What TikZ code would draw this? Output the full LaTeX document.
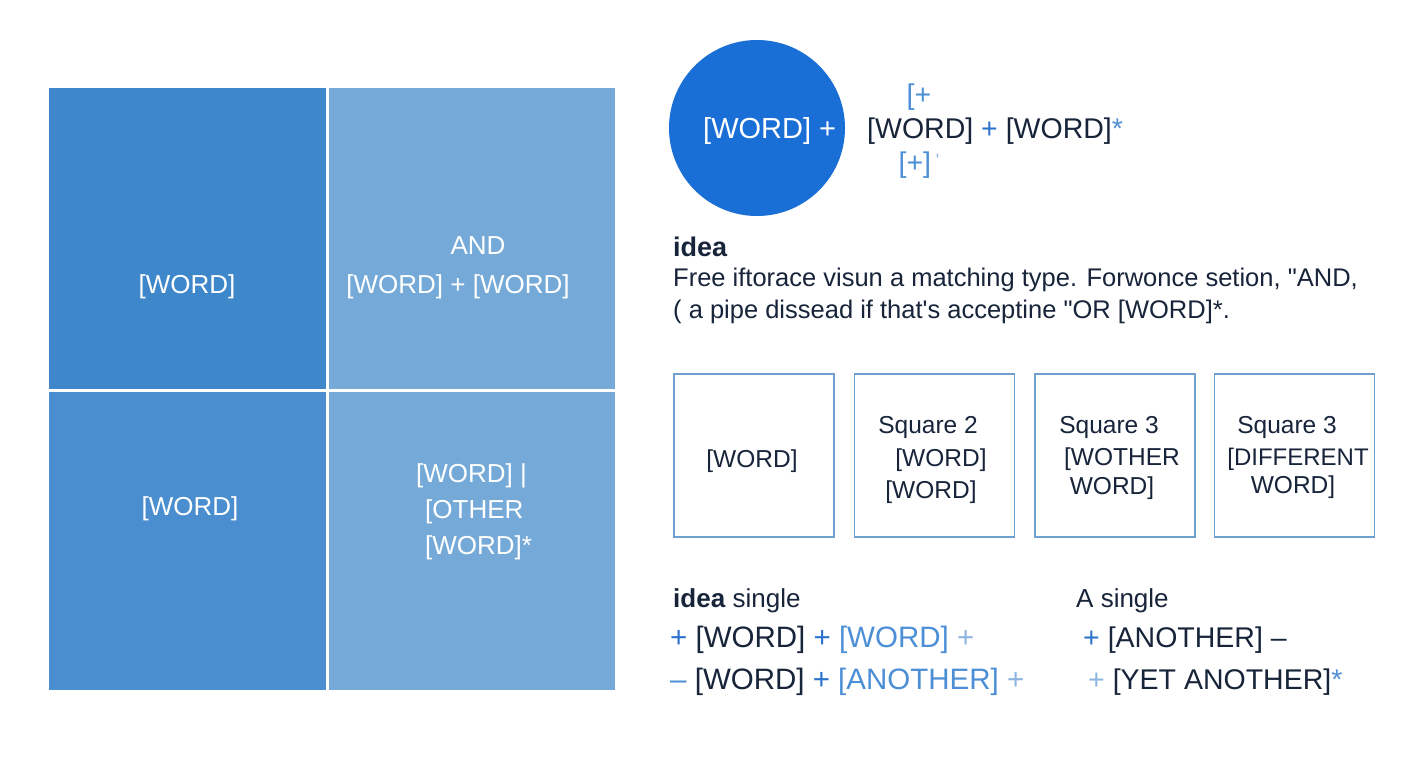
\documentclass[tikz,border=0pt]{standalone}
\usepackage{fontspec}
\setmainfont{Liberation Sans}[Ligatures=TeXOff]
\usetikzlibrary{positioning}
\definecolor{deepblue}{HTML}{3F87CB}
\definecolor{midblue}{HTML}{4A8ECF}
\definecolor{paleblue}{HTML}{75AAD8}
\definecolor{dotblue}{HTML}{1A6FD6}
\definecolor{navy}{HTML}{17243A}
\definecolor{plusblue}{HTML}{2A72CC}
\definecolor{wordblue}{HTML}{4D8FD6}
\definecolor{faintblue}{HTML}{8DB5E0}
\definecolor{frameblue}{HTML}{6FA0CF}
\tikzset{
  cell/.style = {anchor=north west, inner sep=0pt, outer sep=0pt},
  gap/.style = {draw=white, line width=3pt},
  frame/.style = {draw=frameblue, line width=1.6pt, anchor=north west,
   minimum width=160pt, minimum height=163pt, inner sep=0pt},
  wtxt/.style = {text=white, inner sep=0pt, anchor=base,
   font=\fontsize{26}{31}\selectfont},
  btxt/.style = {text=navy, inner sep=0pt, anchor=base,
   font=\fontsize{24.5}{29}\selectfont},
  ltxt/.style = {text=navy, inner sep=0pt, anchor=base west,
   font=\fontsize{28.5}{34}\selectfont},
}
\newcommand{\pl}[1]{\textcolor{#1}{+}}

\begin{document}
\begin{tikzpicture}[x=1pt, y=-1pt]
  \useasboundingbox [fill=white] (0,0) rectangle (1408,768);
  % left grid
  \node (tl) [cell, fill=deepblue, minimum width=278pt, minimum height=302pt] at (49,88) {};
  \node (tr) [cell, fill=paleblue, minimum width=288pt, minimum height=302pt] at (tl.north east) {};
  \node (bl) [cell, fill=midblue, minimum width=278pt, minimum height=300pt] at (tl.south west) {};
  \node (br) [cell, fill=paleblue, minimum width=288pt, minimum height=300pt] at (bl.north east) {};
  \draw [gap] (tl.north east) -- (bl.south east);
  \draw [gap] (tl.south west) -- (tr.south east);
  \node (tlw) [wtxt] at (187,293) {[WORD]};
  \node (tra) [wtxt] at (478,254) {AND};
  \node (trw) [wtxt] at (458,293) {[WORD] + [WORD]};
  \node (blw) [wtxt] at (190,515) {[WORD]};
  \node (brw) [wtxt, anchor=base west] at (416,482) {[WORD] |};
  \node (bro) [wtxt, anchor=base west] at (425,518) {[OTHER};
  \node (brx) [wtxt, anchor=base west] at (425,554) {[WORD]*};
  % circle and formula
  \node (dot) [circle, fill=dotblue, minimum size=176pt, inner sep=0pt] at (757,128) {};
  \node (dotw) [wtxt, anchor=base west, font=\fontsize{29}{34}\selectfont] at (703,138) {[WORD] +};
  \node (upl) [ltxt, text=wordblue, anchor=base] at (919,104) {[+};
  \node (form) [ltxt] at (867,138) {[WORD] \pl{plusblue} [WORD]\textcolor{wordblue}{*}};
  \node (lpl) [ltxt, text=wordblue, anchor=base] at (919,172) {[+]\,\textcolor{faintblue}{\fontsize{18}{20}\selectfont\raisebox{6pt}{'}}};
  % idea paragraph
  \node (idea) [ltxt, font=\bfseries\fontsize{27}{32}\selectfont] at (673,256) {idea};
  \node (para) [ltxt, font=\fontsize{25.5}{32}\selectfont, align=left, anchor=north west]
   at (673,268) {Free iftorace visun a matching type. Forwonce setion, "AND,\\
   ( a pipe dissead if that's acceptine "OR [WORD]*.};
  % four boxes
  \node (sq1) [frame] at (673,373) {};
  \node (sq2) [frame, right=19pt of sq1.north east, anchor=north west] {};
  \node (sq3) [frame, right=19pt of sq2.north east, anchor=north west] {};
  \node (sq4) [frame, right=18pt of sq3.north east, anchor=north west] {};
  \node (s1a) [btxt] at (752,467) {[WORD]};
  \node (s2a) [btxt] at (928,433) {Square 2};
  \node (s2b) [btxt] at (941,466) {[WORD]};
  \node (s2c) [btxt] at (931,498) {[WORD]};
  \node (s3a) [btxt] at (1109,433) {Square 3};
  \node (s3b) [btxt] at (1122,465) {[WOTHER};
  \node (s3c) [btxt] at (1112,494) {WORD]};
  \node (s4a) [btxt] at (1287,433) {Square 3};
  \node (s4b) [btxt, font=\fontsize{24}{29}\selectfont] at (1298,465) {[DIFFERENT};
  \node (s4c) [btxt] at (1293,493) {WORD]};
  % bottom lines
  \node (ida) [ltxt, font=\fontsize{26}{30}\selectfont] at (673,607) {\textbf{idea} single};
  \node (ln1) [ltxt, font=\fontsize{29.5}{34}\selectfont] at (670,647) {\pl{plusblue} [WORD] \pl{plusblue} \textcolor{wordblue}{[WORD]} \pl{faintblue}};
  \node (ln2) [ltxt, font=\fontsize{29.5}{34}\selectfont] at (670,689) {\textcolor{wordblue}{–} [WORD] \pl{plusblue} \textcolor{wordblue}{[ANOTHER]} \pl{faintblue}};
  \node (asg) [ltxt, font=\fontsize{26}{30}\selectfont] at (1076,607) {A single};
  \node (rn1) [ltxt] at (1083,647) {\pl{plusblue} [ANOTHER] –};
  \node (rn2) [ltxt] at (1088,689) {\pl{faintblue} [YET ANOTHER]\textcolor{wordblue}{*}};
\end{tikzpicture}
\end{document}
